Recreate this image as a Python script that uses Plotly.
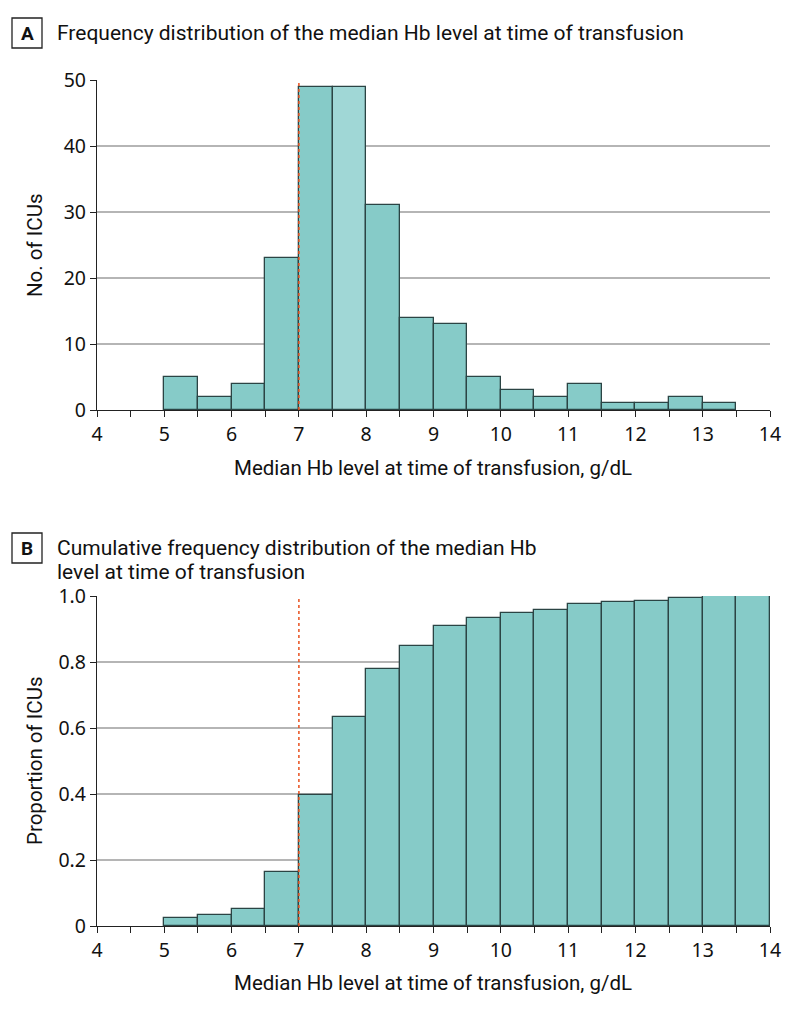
import plotly.graph_objects as go

bin_left = [5.0, 5.5, 6.0, 6.5, 7.0, 7.5, 8.0, 8.5, 9.0, 9.5, 10.0, 10.5, 11.0, 11.5, 12.0, 12.5, 13.0]
counts = [5, 2, 4, 23, 49, 49, 31, 14, 13, 5, 3, 2, 4, 1, 1, 2, 1]

cum_left = [5.0, 5.5, 6.0, 6.5, 7.0, 7.5, 8.0, 8.5, 9.0, 9.5, 10.0, 10.5, 11.0, 11.5, 12.0, 12.5, 13.0, 13.5]
cum_prop = [0.024, 0.033, 0.053, 0.163, 0.397, 0.632, 0.780, 0.847, 0.909, 0.933, 0.947, 0.957, 0.976, 0.981, 0.986, 0.995, 1.0, 1.0]

x_ticks = [4, 4.5, 5, 5.5, 6, 6.5, 7, 7.5, 8, 8.5, 9, 9.5, 10, 10.5, 11, 11.5, 12, 12.5, 13, 13.5, 14]
x_ticktext = [str(int(v)) if v == int(v) else "" for v in x_ticks]
yA_ticks = [0, 10, 20, 30, 40, 50]
yB_ticks = [0, 0.2, 0.4, 0.6, 0.8, 1.0]
yB_text = ["0", "0.2", "0.4", "0.6", "0.8", "1.0"]

threshold = 7.0
BIN_W = 0.5
FILL = "#86CBC8"
FILL_LIGHT = "#A0D7D6"
EDGE = "#2B4444"
TICKFONT = "Noto Sans"
TFONT = "Roboto"

W, H = 794, 1011
OFF = 8  # page body margin


def px(x):
    return (x - OFF) / W


def py(y):
    return 1 - (y - OFF) / H


colorsA = [FILL_LIGHT if l == 7.5 else FILL for l in bin_left]

fig = go.Figure()
fig.add_trace(go.Bar(x=[l + BIN_W / 2 for l in bin_left], y=counts, width=BIN_W,
                     marker=dict(color=colorsA, line=dict(color=EDGE, width=1.3)),
                     xaxis="x", yaxis="y", showlegend=False))
fig.add_trace(go.Bar(x=[l + BIN_W / 2 for l in cum_left], y=cum_prop, width=BIN_W,
                     marker=dict(color=FILL, line=dict(color=EDGE, width=1.3)),
                     xaxis="x2", yaxis="y2", showlegend=False))

xdom = [px(97), px(770)]
axis_common = dict(showline=True, linecolor="#222", linewidth=1.3, ticks="outside",
                   ticklen=6, tickcolor="#222", tickwidth=1.3, automargin=False,
                   tickfont=dict(family=TICKFONT, size=19.5, color="#111"))

fig.update_layout(
    width=W, height=H, margin=dict(l=0, r=0, t=0, b=0, autoexpand=False),
    paper_bgcolor="white", plot_bgcolor="white", bargap=0,
    font=dict(family=TFONT, color="#111"),
    xaxis=dict(domain=xdom, range=[4, 14], tickvals=x_ticks, ticktext=x_ticktext,
               anchor="y", showgrid=False, zeroline=False, **axis_common),
    yaxis=dict(domain=[py(410), py(80)], range=[0, 50], tickvals=yA_ticks,
               anchor="x", showgrid=True, gridcolor="#B5B5B5", gridwidth=1.5, zeroline=False,
               **axis_common),
    xaxis2=dict(domain=xdom, range=[4, 14], tickvals=x_ticks, ticktext=x_ticktext,
                anchor="y2", showgrid=False, zeroline=False, **axis_common),
    yaxis2=dict(domain=[py(926), py(596)], range=[0, 1.0], tickvals=yB_ticks,
                ticktext=yB_text, anchor="x2", showgrid=True, gridcolor="#B5B5B5",
                gridwidth=1.5, zeroline=False, **axis_common),
)

# threshold lines
fig.add_shape(type="line", xref="x", yref="y", x0=threshold, x1=threshold, y0=0, y1=50,
              line=dict(color="#E8501E", width=1.5, dash="dot"), layer="above")
fig.add_shape(type="line", xref="x2", yref="y2", x0=threshold, x1=threshold, y0=0, y1=1.0,
              line=dict(color="#E8501E", width=1.5, dash="dot"), layer="above")


def text(x, y, s, size, xanchor="center", yanchor="middle", angle=0, align="center"):
    fig.add_annotation(x=px(x), y=py(y), xref="paper", yref="paper", text=s, showarrow=False,
                       xanchor=xanchor, yanchor=yanchor, textangle=angle, align=align,
                       font=dict(family=TFONT, size=size, color="#111"))


# panel label boxes
for lab, cy in [("A", 33), ("B", 548)]:
    fig.add_shape(type="rect", xref="paper", yref="paper", x0=px(12), x1=px(42),
                  y0=py(cy + 15), y1=py(cy - 15), line=dict(color="#222", width=1.3))
    text(27, cy, "<b>" + lab + "</b>", 19)

# titles
text(55, 33, "Frequency distribution of the median Hb level at time of transfusion", 21, xanchor="left")
text(55, 548, "Cumulative frequency distribution of the median Hb", 21, xanchor="left")
text(55, 572, "level at time of transfusion", 21, xanchor="left")

# axis titles
text(433, 468, "Median Hb level at time of transfusion, g/dL", 20.5)
text(433, 983, "Median Hb level at time of transfusion, g/dL", 20.5)
text(35, 245, "No. of ICUs", 20.5, angle=-90)
text(35, 761, "Proportion of ICUs", 20.5, angle=-90)

fig.write_html("out.html")
